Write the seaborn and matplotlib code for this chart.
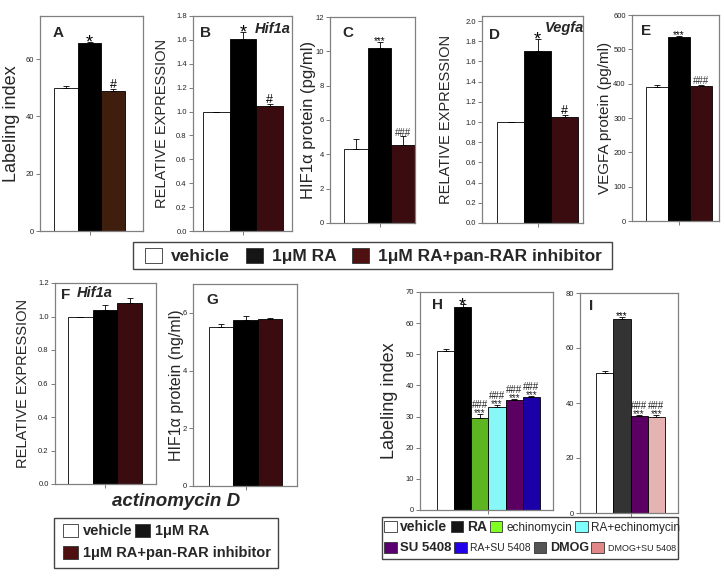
import numpy as np
import pandas as pd
import matplotlib
matplotlib.use("Agg")
import matplotlib.pyplot as plt
from matplotlib.patches import Patch, Rectangle
from matplotlib.ticker import FormatStrFormatter
import seaborn as sns

# ---- data ----
conds3 = ["vehicle", "1\u03bcM RA", "1\u03bcM RA+pan-RAR inhibitor"]

a_vals = [50.0, 65.5, 49.0]
a_err = [0.5, 0.4, 0.7]
a_marks = ["", "*", "#"]

b_vals = [1.0, 1.61, 1.05]
b_err = [0.0, 0.06, 0.015]
b_marks = ["", "*", "#"]

c_vals = [4.3, 10.2, 4.55]
c_err = [0.6, 0.35, 0.5]
c_marks = ["", "***", "###"]

d_vals = [1.0, 1.70, 1.05]
d_err = [0.0, 0.12, 0.02]
d_marks = ["", "*", "#"]

e_vals = [390, 537, 393]
e_err = [7, 2, 3]
e_marks = ["", "***", "###"]

f_vals = [1.0, 1.04, 1.08]
f_err = [0.0, 0.03, 0.03]

g_vals = [5.5, 5.75, 5.78]
g_err = [0.1, 0.15, 0.05]

h_conds = ["vehicle", "RA", "echinomycin", "RA+echinomycin", "SU 5408", "RA+SU 5408"]
h_vals = [51.0, 65.3, 29.5, 33.0, 35.3, 36.2]
h_err = [0.7, 0.7, 1.3, 0.8, 0.5, 0.4]
h_marks = ["", "*", "###\n***", "###\n***", "###\n***", "###\n***"]

i_conds = ["vehicle", "DMOG", "SU 5408", "DMOG+SU 5408"]
i_vals = [51.0, 70.5, 35.3, 34.8]
i_err = [0.7, 0.8, 0.3, 0.8]
i_marks = ["", "***", "###\n***", "###\n***"]

legend8 = ["vehicle", "RA", "echinomycin", "RA+echinomycin",
           "SU 5408", "RA+SU 5408", "DMOG", "DMOG+SU 5408"]

# ---- colours ----
col_top_a = ["#ffffff", "#000000", "#3f1e0e"]
col_top = ["#ffffff", "#000000", "#3a0b0f"]
col_h = ["#ffffff", "#000000", "#5cb521", "#88f7f7", "#5b0062", "#1b00a8"]
col_i = ["#ffffff", "#333333", "#5b0062", "#e6b3b3"]
col_leg3 = ["#ffffff", "#151515", "#4e1010"]
col_leg8 = ["#ffffff", "#151515", "#80ff20", "#80ffff",
            "#5a0070", "#2200e8", "#555555", "#e08888"]

sns.set_theme(style="ticks")
plt.rcParams["font.family"] = ["Liberation Sans", "DejaVu Sans"]

W, H = 724, 580
fig = plt.figure(figsize=(W / 100, H / 100), dpi=100)


def make_axes(box):
    l, t, r, b = box
    return fig.add_axes([l / W, 1 - b / H, (r - l) / W, (b - t) / H])


def add_mark(ax, i, y, m):
    if m == "*":
        size, dy, col = 13, -4, "black"
    elif m == "#":
        size, dy, col = 9, 0.5, "black"
    elif m == "***":
        size, dy, col = 7, -1.5, "black"
    elif m == "###":
        size, dy, col = 7, 0.5, "#333333"
    else:
        size, dy, col = 7, -1.5, "#222222"
    ax.annotate(m, xy=(i, y), xytext=(0, dy), textcoords="offset points",
                ha="center", va="baseline", fontsize=size, linespacing=0.75,
                color=col)


def bar_panel(box, bars, conds, vals, errs, colors, ylim, yticks, fmt=None,
              ylabel=None, label_x=None, label_size=12, marks=None):
    ax = make_axes(box)
    df = pd.DataFrame({"cond": conds, "val": vals})
    sns.barplot(data=df, x="cond", y="val", hue="cond", order=conds,
                hue_order=conds, palette=dict(zip(conds, colors)), width=1,
                saturation=1, edgecolor="black", linewidth=0.6, legend=False,
                ax=ax)
    n = len(conds)
    ax.errorbar(np.arange(n), vals, yerr=[np.zeros(n), errs], fmt="none",
                ecolor="black", elinewidth=0.6, capsize=2.5, capthick=0.6)
    unit = (bars[1] - bars[0]) / n
    ax.set_xlim(-0.5 - (bars[0] - box[0]) / unit,
                n - 0.5 + (box[2] - bars[1]) / unit)
    ax.set_ylim(*ylim)
    ax.set_yticks(yticks)
    if fmt:
        ax.yaxis.set_major_formatter(FormatStrFormatter(fmt))
    ax.set_xticks([(n - 1) / 2])
    ax.set_xticklabels([""])
    ax.set_xlabel("")
    ax.set_ylabel("")
    for s in ax.spines.values():
        s.set_color("#808080")
        s.set_linewidth(0.9)
    ax.tick_params(axis="both", length=3, width=0.6, color="#666666",
                   labelsize=5.5, labelcolor="#222222", pad=1.5)
    if ylabel:
        ax.set_ylabel(ylabel, fontsize=label_size)
        ax.yaxis.set_label_coords((label_x - box[0]) / (box[2] - box[0]), 0.5)
        ax.yaxis.label.set_verticalalignment("center")
    if marks:
        for i, m in enumerate(marks):
            if m:
                add_mark(ax, i, vals[i] + errs[i], m)
    return ax


def tag(ax, x, y, s, size=11, style="normal"):
    ax.text(x, y, s, transform=ax.transAxes, fontsize=size, fontweight="bold",
            fontstyle=style, ha="left", va="center")


def legend_row(handles, labels, x, y, fontsize, sizes=None, weights=None,
               spacing=0.6, pad=0.4):
    leg = fig.legend(handles, labels, loc="center left",
                     bbox_to_anchor=(x / W, 1 - y / H), ncol=len(labels),
                     frameon=False, fontsize=fontsize, handlelength=1.0,
                     handleheight=1.0, handletextpad=pad,
                     columnspacing=spacing, borderpad=0, borderaxespad=0)
    for k, t in enumerate(leg.get_texts()):
        t.set_fontweight(weights[k] if weights else "bold")
        if sizes:
            t.set_fontsize(sizes[k])
    return leg


def frame(l, t, r, b):
    fig.add_artist(Rectangle((l / W, 1 - b / H), (r - l) / W, (b - t) / H,
                             transform=fig.transFigure, fill=False,
                             edgecolor="#444444", linewidth=1))


def patches(colors):
    return [Patch(facecolor=c, edgecolor="#333333", linewidth=0.6) for c in colors]


# ---- top row ----
box = (40, 16, 143, 231)
ax = bar_panel(box, (54, 125), conds3, a_vals, a_err, col_top_a, (0, 75),
               [0, 20, 40, 60], ylabel="Labeling index", label_x=12,
               label_size=13, marks=a_marks)
tag(ax, 0.12, 0.92, "A")

box = (193, 16, 292, 231)
ax = bar_panel(box, (203, 283), conds3, b_vals, b_err, col_top, (0, 1.8),
               np.arange(0, 1.81, 0.2), "%.1f", ylabel="RELATIVE EXPRESSION",
               label_x=162, label_size=10.5, marks=b_marks)
tag(ax, 0.07, 0.92, "B")
tag(ax, 0.62, 0.94, "Hif1a", 10.5, "italic")

box = (330, 17, 415, 223)
ax = bar_panel(box, (344, 415), conds3, c_vals, c_err, col_top, (0, 12),
               np.arange(0, 13, 2), ylabel="HIF1\u03b1 protein (pg/ml)",
               label_x=309, label_size=12, marks=c_marks)
tag(ax, 0.14, 0.92, "C")

box = (482, 16, 583, 223)
ax = bar_panel(box, (497, 578), conds3, d_vals, d_err, col_top, (0, 2.05),
               np.arange(0, 2.01, 0.2), "%.1f", ylabel="RELATIVE EXPRESSION",
               label_x=446, label_size=10.5, marks=d_marks)
tag(ax, 0.07, 0.91, "D")
tag(ax, 0.62, 0.94, "Vegfa", 10.5, "italic")

box = (632, 15, 719, 221)
ax = bar_panel(box, (646, 712), conds3, e_vals, e_err, col_top, (0, 600),
               np.arange(0, 601, 100), ylabel="VEGFA protein (pg/ml)",
               label_x=605, label_size=11, marks=e_marks)
tag(ax, 0.1, 0.92, "E")

legend_row(patches(col_leg3), conds3, 145, 256, 12.5, spacing=0.9, pad=0.5)
frame(133, 242, 612, 269)

# ---- F, G ----
box = (55, 283, 156, 484)
ax = bar_panel(box, (68, 142), conds3, f_vals, f_err, col_top, (0, 1.2),
               np.arange(0, 1.21, 0.2), "%.1f", ylabel="RELATIVE EXPRESSION",
               label_x=23, label_size=10.5)
tag(ax, 0.06, 0.94, "F")
tag(ax, 0.22, 0.95, "Hif1a", 10.5, "italic")

box = (193, 284, 297, 486)
ax = bar_panel(box, (209, 282), conds3, g_vals, g_err, col_top, (0, 7),
               [0, 2, 4, 6], ylabel="HIF1\u03b1 protein (ng/ml)",
               label_x=176, label_size=11.5)
tag(ax, 0.13, 0.92, "G")

fig.text(176 / W, 1 - 502 / H, "actinomycin D", fontsize=13.5,
         fontweight="bold", fontstyle="italic", ha="center", va="center")

legend_row(patches(col_leg3[:2]), conds3[:2], 63, 531, 10.5, spacing=0.2, pad=0.35)
legend_row(patches(col_leg3[2:]), conds3[2:], 63, 553, 10.5, pad=0.35)
frame(54, 518, 278, 568)

# ---- H, I ----
box = (420, 292, 553, 510)
ax = bar_panel(box, (437, 540), h_conds, h_vals, h_err, col_h, (0, 70),
               np.arange(0, 71, 10), ylabel="Labeling index", label_x=389,
               label_size=13, marks=h_marks)
tag(ax, 0.09, 0.94, "H")

box = (580, 293, 678, 513)
ax = bar_panel(box, (596, 665), i_conds, i_vals, i_err, col_i, (0, 80),
               np.arange(0, 81, 20), marks=i_marks)
tag(ax, 0.09, 0.94, "I")

legend_row(patches(col_leg8[:4]), legend8[:4], 384, 527, 9,
           sizes=[10, 10, 8.5, 8.5], weights=["bold", "bold", "normal", "normal"],
           spacing=0.25, pad=0.3)
legend_row(patches(col_leg8[4:]), legend8[4:], 384, 548, 9,
           sizes=[9.5, 7.5, 9, 6.5], weights=["bold", "normal", "bold", "normal"],
           spacing=0.2, pad=0.3)
frame(382, 517, 678, 559)

fig.savefig("out.png", dpi=100)
